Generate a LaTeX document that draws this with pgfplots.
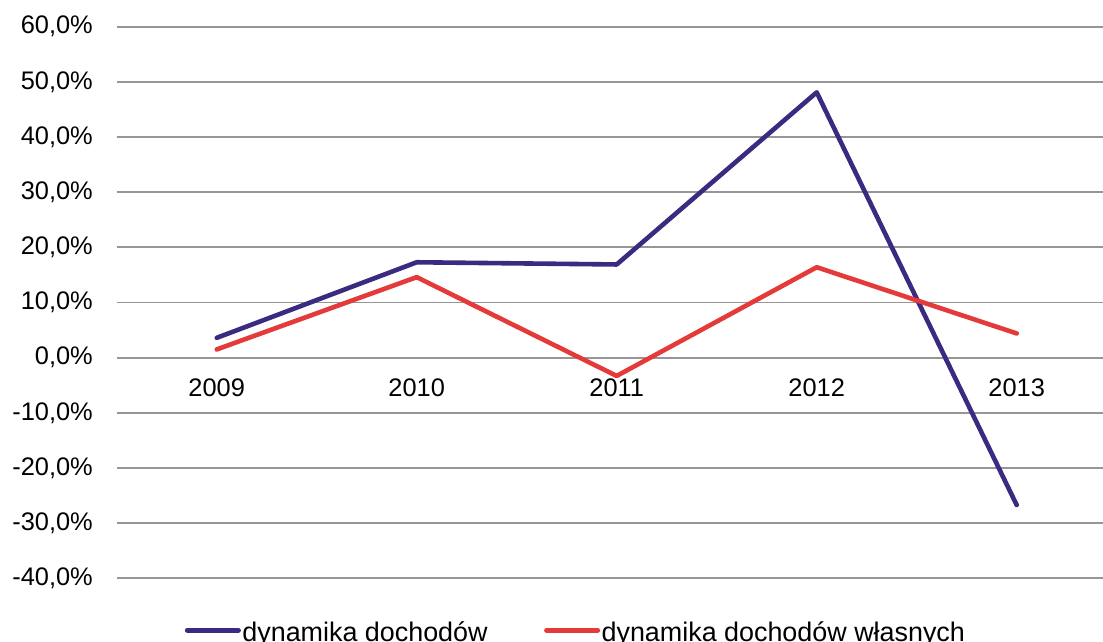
\documentclass[border=0pt]{standalone}
\usepackage{fontspec}
\setmainfont{Liberation Sans}
\usepackage{pgfplots}
\pgfplotsset{compat=1.18}
\definecolor{blueS}{RGB}{59,42,128}
\definecolor{redS}{RGB}{228,58,58}
\definecolor{gridC}{RGB}{150,150,150}
\begin{document}
\begin{tikzpicture}[x=1bp,y=1bp]
\clip (-116.7,-63.6) rectangle (986.3,578.4);
\begin{axis}[
  at={(0,0)}, anchor=south west,
  scale only axis, width=1000bp, height=551.7bp,
  xmin=-0.5, xmax=4.5, ymin=-40, ymax=60,
  ytick={-40,-30,-20,-10,0,10,20,30,40,50,60},
  yticklabels={{-40,0\%},{-30,0\%},{-20,0\%},{-10,0\%},{0,0\%},{10,0\%},{20,0\%},{30,0\%},{40,0\%},{50,0\%},{60,0\%}},
  xtick={0,1,2,3,4},
  xticklabels={2009,2010,2011,2012,2013},
  axis line style={draw=none},
  major tick length=0pt,
  ymajorgrids, grid style={gridC, line width=1.8bp},
  tick label style={font=\fontsize{25.5}{30}\selectfont},
  yticklabel style={inner sep=0pt, anchor=east, xshift=-23.7bp},
  xticklabel style={inner sep=0pt, anchor=north, yshift=199.4bp},
  clip=false,
  legend style={at={(0.068,-0.0985)}, anchor=west, draw=none, fill=none,
    legend columns=2, inner sep=0pt,
    font=\fontsize{27}{32}\selectfont,
    nodes={inner sep=1.5bp},
    /tikz/every even column/.append style={column sep=55bp}},
  legend image code/.code={\draw[#1, line width=5bp, line cap=round] (0bp,2.5bp) -- (51bp,2.5bp);},
]
\addplot[blueS, line width=4.6bp, line cap=round, line join=round] coordinates {
  (0,3.6) (1,17.3) (2,16.9) (3,48.1) (4,-26.7)};
\addlegendentry{dynamika dochodów}
\addplot[redS, line width=4.6bp, line cap=round, line join=round] coordinates {
  (0,1.5) (1,14.6) (2,-3.3) (3,16.4) (4,4.4)};
\addlegendentry{dynamika dochodów własnych}
\end{axis}
\end{tikzpicture}
\end{document}
